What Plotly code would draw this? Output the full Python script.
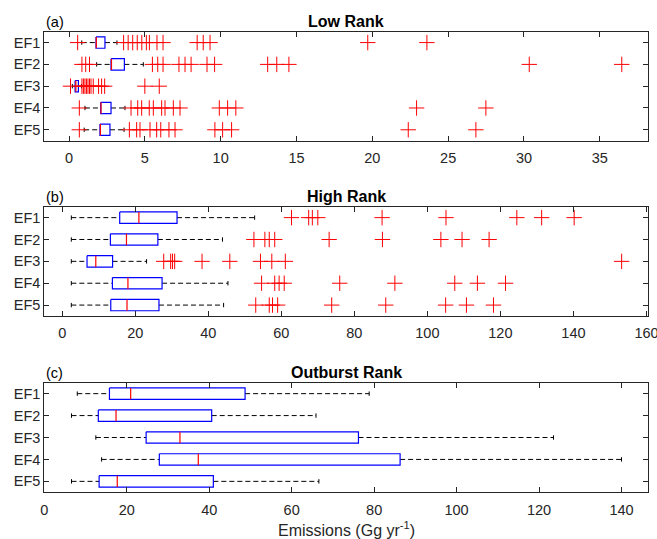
import plotly.graph_objects as go

categories = ["EF1", "EF2", "EF3", "EF4", "EF5"]

# (a) Low Rank
low_lo = [0.84, 1.82, 0.22, 1.05, 1.00]
low_q1 = [1.78, 2.77, 0.40, 2.09, 2.04]
low_med = [1.80, 2.80, 0.45, 2.11, 2.07]
low_q3 = [2.37, 3.65, 0.62, 2.77, 2.70]
low_hi = [3.16, 4.90, 0.82, 3.69, 3.63]
low_out = [
    [0.57, 3.6, 3.9, 4.2, 4.5, 4.8, 5.1, 5.3, 5.8, 6.2, 8.45, 8.85, 9.3, 19.7, 23.6],
    [0.85, 1.1, 1.35, 5.5, 5.85, 6.2, 7.25, 7.65, 8.05, 9.1, 9.6, 13.1, 13.7, 14.5, 30.35, 36.45],
    [0.1, 0.85, 0.95, 1.05, 1.15, 1.25, 1.35, 1.45, 1.6, 1.95, 2.15, 2.35, 5.0, 5.95],
    [0.68, 4.09, 4.53, 4.79, 5.29, 5.56, 6.11, 6.33, 6.88, 7.32, 9.91, 10.46, 11.0, 22.92, 27.49],
    [0.68, 3.98, 4.46, 4.68, 5.34, 5.78, 6.05, 6.59, 6.99, 9.62, 10.13, 10.72, 22.37, 26.83],
]

# (b) High Rank
high_lo = [2.5, 2.5, 2.5, 2.5, 2.5]
high_q1 = [15.75, 13.2, 6.8, 13.75, 13.3]
high_med = [21.0, 17.6, 9.2, 18.0, 17.75]
high_q3 = [31.45, 26.2, 13.8, 27.35, 26.5]
high_hi = [52.7, 43.9, 23.1, 45.4, 44.2]
high_out = [
    [62.8, 67.5, 68.5, 70.0, 87.6, 105.1, 124.5, 131.3, 140.2],
    [52.5, 55.5, 56.7, 58.2, 73.1, 87.7, 103.7, 109.5, 116.9],
    [27.8, 29.7, 30.2, 30.8, 38.3, 45.9, 54.3, 57.4, 61.1, 153.2],
    [54.6, 58.2, 59.4, 60.8, 76.0, 91.1, 107.5, 113.7, 121.4],
    [53.0, 56.7, 57.6, 59.0, 73.8, 88.6, 105.0, 110.7, 118.1],
]

# (c) Outburst Rank
out_lo = [8.0, 6.6, 12.5, 13.9, 6.6]
out_q1 = [15.8, 13.1, 24.7, 27.9, 13.3]
out_med = [20.95, 17.4, 32.9, 37.35, 17.7]
out_q3 = [48.7, 40.6, 76.2, 86.3, 41.0]
out_hi = [78.8, 65.9, 123.5, 140.0, 66.6]
out_out = [[], [], [], [], []]

panels = [
    dict(lo=low_lo, q1=low_q1, med=low_med, q3=low_q3, hi=low_hi, out=low_out,
         title="Low Rank", tag="(a)", xr=[-1.63, 38.2], ticks=list(range(0, 36, 5)),
         dom=[0.739, 0.9412]),
    dict(lo=high_lo, q1=high_q1, med=high_med, q3=high_q3, hi=high_hi, out=high_out,
         title="High Rank", tag="(b)", xr=[-4.9, 160.5], ticks=list(range(0, 161, 20)),
         dom=[0.4137, 0.6165]),
    dict(lo=out_lo, q1=out_q1, med=out_med, q3=out_q3, hi=out_hi, out=out_out,
         title="Outburst Rank", tag="(c)", xr=[0, 146.5], ticks=list(range(0, 141, 20)),
         dom=[0.0866, 0.29]),
]

W, H = 657, 539
xdom = [44.3 / W, 648.3 / W]
bw = 0.26   # half box height (category units)
cw = 0.1    # half cap height
axcol = "#262626"
font = "Liberation Sans, Arial, sans-serif"

fig = go.Figure()
layout = dict(
    width=W, height=H, margin=dict(l=0, r=0, t=0, b=0, autoexpand=False),
    paper_bgcolor="white", plot_bgcolor="white", showlegend=False,
    font=dict(family=font, size=14.5, color=axcol),
)
annotations = []

for k, p in enumerate(panels):
    n = "" if k == 0 else str(k + 1)
    xa, ya = "x" + n, "y" + n
    bx, by, mx, my, wx, wy, cx, cy, ox, oy = ([] for _ in range(10))
    for i in range(len(categories)):
        yc = i + 1
        q1, q3, md, lo, hi = p["q1"][i], p["q3"][i], p["med"][i], p["lo"][i], p["hi"][i]
        bx += [q1, q3, q3, q1, q1, None]
        by += [yc - bw, yc - bw, yc + bw, yc + bw, yc - bw, None]
        mx += [md, md, None]
        my += [yc - bw, yc + bw, None]
        wx += [lo, q1, None, q3, hi, None]
        wy += [yc, yc, None, yc, yc, None]
        cx += [lo, lo, None, hi, hi, None]
        cy += [yc - cw, yc + cw, None, yc - cw, yc + cw, None]
        ox += p["out"][i]
        oy += [yc] * len(p["out"][i])
    fig.add_trace(go.Scatter(x=wx, y=wy, mode="lines", xaxis=xa, yaxis=ya,
                             line=dict(color="black", width=1, dash="5px,3px"), hoverinfo="skip"))
    fig.add_trace(go.Scatter(x=cx, y=cy, mode="lines", xaxis=xa, yaxis=ya,
                             line=dict(color="black", width=1), hoverinfo="skip"))
    fig.add_trace(go.Scatter(x=bx, y=by, mode="lines", xaxis=xa, yaxis=ya,
                             line=dict(color="rgb(0,0,255)", width=1.2), hoverinfo="skip"))
    fig.add_trace(go.Scatter(x=mx, y=my, mode="lines", xaxis=xa, yaxis=ya,
                             line=dict(color="rgb(255,0,0)", width=1.2), hoverinfo="skip"))
    if ox:
        fig.add_trace(go.Scatter(x=ox, y=oy, mode="markers", xaxis=xa, yaxis=ya,
                                 marker=dict(symbol="cross-thin", size=11,
                                             line=dict(color="rgb(255,0,0)", width=1.0)),
                                 hoverinfo="skip"))
    layout["xaxis" + n] = dict(
        domain=xdom, anchor=ya, range=p["xr"], tickvals=p["ticks"], automargin=False,
        ticks="inside", ticklen=5, tickcolor=axcol, showline=True, linecolor=axcol,
        linewidth=1, mirror="ticks", showgrid=False, zeroline=False,
        tickfont=dict(size=14.5, color=axcol), ticklabelstandoff=4,
        ticklabeloverflow="allow",
    )
    layout["yaxis" + n] = dict(
        domain=p["dom"], anchor=xa, range=[5.5, 0.5], tickvals=[1, 2, 3, 4, 5],
        ticktext=categories, ticks="inside", ticklen=5, tickcolor=axcol, automargin=False,
        showline=True, linecolor=axcol, linewidth=1, mirror="ticks",
        showgrid=False, zeroline=False, tickfont=dict(size=14.5, color=axcol),
    )
    annotations.append(dict(
        x=(xdom[0] + xdom[1]) / 2, y=p["dom"][1], xref="paper", yref="paper",
        text="<b>" + p["title"] + "</b>", showarrow=False, xanchor="center",
        yanchor="bottom", yshift=0, font=dict(size=16, color="black", family=font),
    ))
    annotations.append(dict(
        x=xdom[0], y=p["dom"][1], xref="paper", yref="paper",
        text=p["tag"], showarrow=False, xanchor="left", yanchor="bottom",
        yshift=0, font=dict(size=14.5, color="black", family=font),
    ))

annotations.append(dict(
    x=(xdom[0] + xdom[1]) / 2, y=(H - 529) / H, xref="paper", yref="paper",
    text="Emissions (Gg yr<sup>-1</sup>)", showarrow=False, xanchor="center",
    yanchor="middle", font=dict(size=16, color=axcol, family=font),
))
layout["annotations"] = annotations
fig.update_layout(**layout)
fig.write_html(
    "out.html",
    config={"displayModeBar": False},
    post_script="document.body.style.margin='0';document.body.style.overflow='hidden';",
)
